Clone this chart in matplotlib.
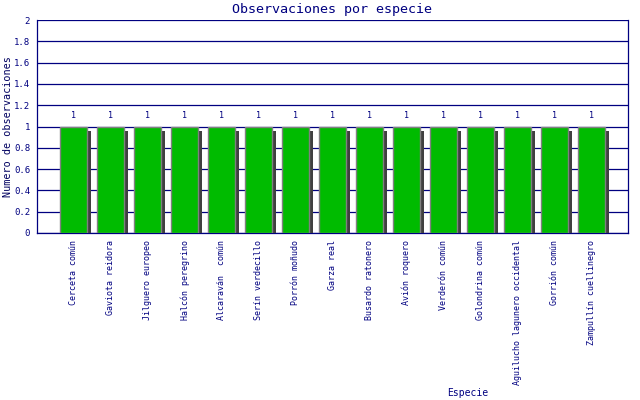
import matplotlib
matplotlib.use("Agg")
import matplotlib.pyplot as plt
import matplotlib.patheffects as pe
import numpy as np

especies = ["Cerceta común", "Gaviota reidora", "Jilguero europeo", "Halcón peregrino",
            "Alcaraván  común", "Serín verdecillo", "Porrón moñudo", "Garza real",
            "Busardo ratonero", "Avión roquero", "Verderón común", "Golondrina común",
            "Aguilucho lagunero occidental", "Gorrión común", "Zampullín cuellinegro"]
observaciones = [1, 1, 1, 1, 1, 1, 1, 1, 1, 1, 1, 1, 1, 1, 1]
yticks = [0, 0.2, 0.4, 0.6, 0.8, 1, 1.2, 1.4, 1.6, 1.8, 2]

azul = "#000080"
plt.rcParams["font.family"] = ["DejaVu Sans Mono"]

fig = plt.figure(figsize=(6.4, 4.0), dpi=100)
ax = fig.add_axes([37 / 640, 1 - 233 / 400, 591 / 640, 213 / 400])

x = np.arange(len(especies))
sombra = [pe.SimplePatchShadow(offset=(2.9, -2.9), shadow_rgbFace="#404040", alpha=1.0), pe.Normal()]
barras = ax.bar(x, observaciones, width=0.73, color="#00bb00", edgecolor="#808080",
                linewidth=1.0, zorder=3)
for b in barras:
    b.set_path_effects(sombra)

for xi, v in zip(x, observaciones):
    ax.text(xi, v + 0.06, f"{v:g}", ha="center", va="bottom", fontsize=6, color=azul)

ax.set_xlim(-1, 15)
ax.set_ylim(0, 2)
ax.set_yticks(yticks)
ax.set_yticklabels([f"{t:g}" for t in yticks], fontsize=6.5, color=azul)
ax.set_xticks(x)
ax.set_xticklabels(especies, rotation=90, fontsize=6, color=azul, va="top")
ax.tick_params(axis="both", length=0, pad=5)
ax.yaxis.grid(True, color=azul, linewidth=0.9, zorder=0)
ax.set_axisbelow(True)
for s in ax.spines.values():
    s.set_color(azul)
    s.set_linewidth(0.9)
ax.spines["top"].set_visible(False)

fig.text(332 / 640, 1 - 9 / 400, "Observaciones por especie", ha="center", va="center",
         fontsize=9.6, color=azul)
fig.text(8 / 640, 1 - 127 / 400, "Numero de observaciones", rotation=90, ha="center",
         va="center", fontsize=7.3, color="#000060")
fig.text(468 / 640, 1 - 393 / 400, "Especie", ha="center", va="center", fontsize=7, color=azul)

fig.savefig("out.png", dpi=100)
